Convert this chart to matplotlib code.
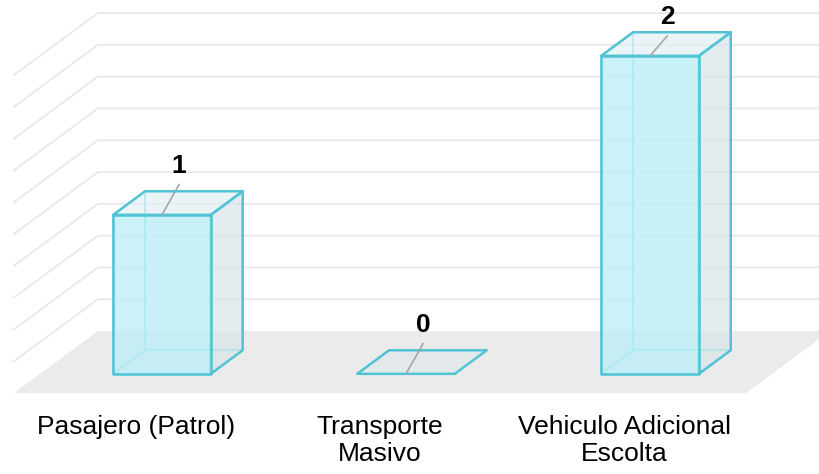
"""Gráfico de barras 3D (estilo Excel) dibujado con proyección oblicua."""

import matplotlib
matplotlib.use("Agg")
import matplotlib.pyplot as plt
from matplotlib.patches import Polygon

categorias = ["Pasajero (Patrol)", "Transporte\nMasivo", "Vehiculo Adicional\nEscolta"]
valores = [1, 0, 2]
ticks_grilla = [0.2, 0.4, 0.6, 0.8, 1.0, 1.2, 1.4, 1.6, 1.8, 2.0]

# proyección oblicua: profundidad d en [0, 1]
DX, DY = 0.344, 0.39
MEDIA_ANCHO = 0.2
D_FRENTE, D_FONDO = 0.31, 0.69
TOPE_ETIQUETA = 2.365  # las etiquetas no salen del área del gráfico

BORDE = "#50C4D5"
FRENTE = "#BDEFF7"
LATERAL = "#DCE3E5"
TAPA = "#E8F0F2"
PISO = "#EBEBEB"
GRILLA = "#E8E8E8"


def proy(x, v, d):
    return (x + d * DX, v + d * DY)


def cara(ax, pts, color, alpha, z, lw=1.8, ec=BORDE):
    ax.add_patch(Polygon(pts, closed=True, facecolor=color, alpha=alpha,
                         edgecolor="none", zorder=z))
    ax.add_patch(Polygon(pts, closed=True, facecolor="none", edgecolor=ec,
                         linewidth=lw, zorder=z + 0.05, joinstyle="round"))


fig = plt.figure(figsize=(8.19, 4.74), dpi=100)
ax = fig.add_axes([0, 0, 1, 1])
ax.set_xlim(-0.557, 2.799)
ax.set_ylim(-0.509, 2.472)
ax.axis("off")

x_izq, x_der = -0.5, len(categorias) - 0.5

# piso
piso = [proy(x_izq, 0, 0), proy(x_der, 0, 0), proy(x_der, 0, 1), proy(x_izq, 0, 1)]
ax.add_patch(Polygon(piso, closed=True, facecolor=PISO, edgecolor="none", zorder=1))

# grilla: pared lateral (diagonal) y pared trasera (horizontal)
for t in ticks_grilla:
    a, b = proy(x_izq, t, 0), proy(x_izq, t, 1)
    c = proy(x_der + 1, t, 1)
    ax.plot([a[0], b[0], c[0]], [a[1], b[1], c[1]], color=GRILLA, lw=1.3,
            zorder=0.5, solid_joinstyle="miter")

for i, v in enumerate(valores):
    x0, x1 = i - MEDIA_ANCHO, i + MEDIA_ANCHO
    f = D_FRENTE
    b = D_FONDO
    if v > 0:
        # caras traseras
        cara(ax, [proy(x0, 0, b), proy(x1, 0, b), proy(x1, v, b), proy(x0, v, b)],
             FRENTE, 0.25, 2, lw=1.3, ec="#8ADDE8")
        cara(ax, [proy(x0, 0, f), proy(x0, 0, b), proy(x0, v, b), proy(x0, v, f)],
             FRENTE, 0.2, 2.1, lw=1.3, ec="#8ADDE8")
        cara(ax, [proy(x0, 0, f), proy(x1, 0, f), proy(x1, 0, b), proy(x0, 0, b)],
             FRENTE, 0.2, 2.2, lw=1.3, ec="#8ADDE8")
        # caras visibles
        cara(ax, [proy(x1, 0, f), proy(x1, 0, b), proy(x1, v, b), proy(x1, v, f)],
             LATERAL, 0.6, 3)
        cara(ax, [proy(x0, v, f), proy(x1, v, f), proy(x1, v, b), proy(x0, v, b)],
             TAPA, 0.6, 3.1)
        cara(ax, [proy(x0, 0, f), proy(x1, 0, f), proy(x1, v, f), proy(x0, v, f)],
             FRENTE, 0.75, 3.2)
    else:
        cara(ax, [proy(x0, 0, f), proy(x1, 0, f), proy(x1, 0, b), proy(x0, 0, b)],
             "#E2E8EA", 0.8, 3)

    # etiqueta de datos con línea guía
    sx, sy = proy(i, v, f)
    tx, ty = sx + 0.07, min(sy + 0.31, TOPE_ETIQUETA)
    ax.plot([sx, tx], [sy, ty - 0.12], color="#A6A6A6", lw=1.2, zorder=4)
    ax.text(tx, ty, str(v), ha="center", va="center", fontsize=19,
            fontweight="bold", family="Liberation Sans", color="black", zorder=5)

    # etiqueta de categoría en el borde frontal del piso
    ax.text(i, -0.135, categorias[i], ha="center", va="top", fontsize=19,
            family="Liberation Sans", color="black", linespacing=1.17)

fig.savefig("out.png", dpi=100)
